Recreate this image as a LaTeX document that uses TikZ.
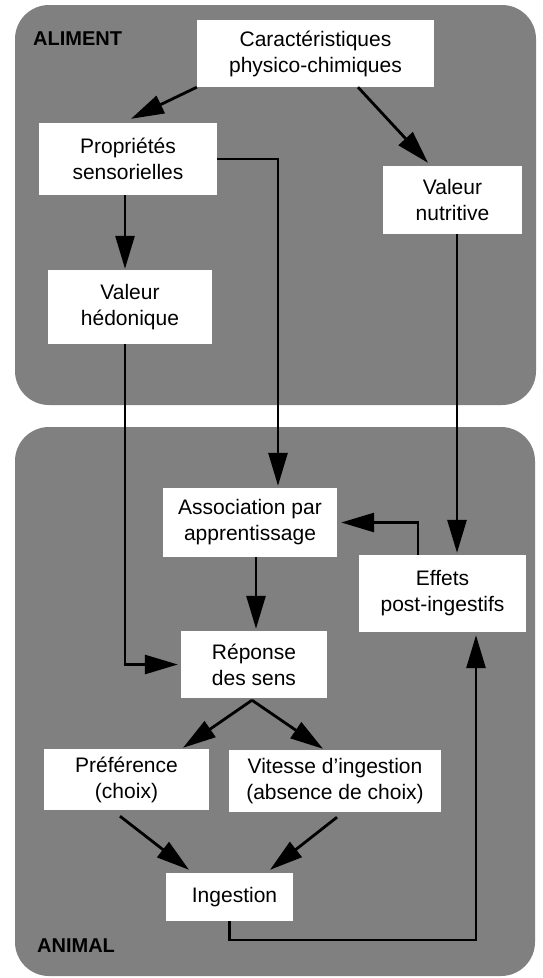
\documentclass[tikz,border=0pt]{standalone}
\usepackage{fontspec}
\setmainfont{Liberation Sans}
\usetikzlibrary{arrows.meta,calc}
\definecolor{panelgray}{RGB}{128,128,128}
\tikzset{
  panel/.style={fill=panelgray, draw=none, rounded corners=34pt},
  box/.style={fill=white, draw=none, inner sep=0pt, align=center,
    font=\fontsize{21}{26}\selectfont},
  lbl/.style={font=\fontsize{20}{24}\selectfont\bfseries, anchor=west, inner sep=0pt},
  conn/.style={draw=black, line width=2.8pt,
    -{Triangle[length=33pt,width=19pt]}},
}
\begin{document}
\begin{tikzpicture}[x=1pt,y=-1pt]
\useasboundingbox (0,0) rectangle (542,978);
% panels
\path[panel] (15,5) rectangle (536,405);
\path[panel] (15,427) rectangle (535,976);
\node[lbl] (aliment) at (33,38.5) {ALIMENT};
\node[lbl] (animal) at (37,946) {ANIMAL};
% boxes
\node[box, minimum width=237pt, minimum height=67pt] (car) at (315.5,53.5) {Caractéristiques\\physico-chimiques};
\node[box, minimum width=178pt, minimum height=72pt] (prop) at (128,159) {Propriétés\\sensorielles};
\node[box, minimum width=139pt, minimum height=68pt] (vn) at (452.5,200) {Valeur\\nutritive};
\node[box, minimum width=164pt, minimum height=74pt] (vh) at (130,307) {Valeur\\hédonique};
\node[box, minimum width=174pt, minimum height=69pt] (assoc) at (250,522.5) {Association par\\apprentissage};
\node[box, minimum width=167pt, minimum height=77pt] (eff) at (442.5,593.5) {Effets\\post-ingestifs};
\node[box, minimum width=146pt, minimum height=67pt] (rep) at (254,664.5) {Réponse\\des sens};
\node[box, minimum width=165pt, minimum height=61pt] (pref) at (126.5,779.5) {Préférence\\(choix)};
\node[box, minimum width=212pt, minimum height=62pt] (vit) at (335,781) {Vitesse d\char"0027 ingestion\\(absence de choix)};
\node[box, minimum width=127pt, minimum height=48pt] (ing) at (229.5,897) {\hspace*{10pt}Ingestion};
\coordinate (bot) at (0,940);
% connectors
\draw[conn] (car.south west) -- ([xshift=3pt,yshift=4pt]prop.north);
\draw[conn] ([xshift=42.5pt]car.south) -- ([xshift=-24.5pt,yshift=3pt]vn.north);
\draw[conn] ([xshift=-3pt]prop.south) -- ([xshift=-3pt,yshift=1pt]prop.south |- vh.north);
\draw[conn] (prop.east) -| ([xshift=28pt,yshift=2pt]assoc.north);
\draw[conn] ([xshift=-5pt]vh.south) |- ([xshift=-3pt]rep.west);
\draw[conn] ([xshift=4.5pt]vn.south) -- ([xshift=4.5pt,yshift=2pt]vn.south |- eff.north);
\draw[conn] ([xshift=-24.5pt]eff.north) |- ([xshift=4pt]assoc.east);
\draw[conn] ([xshift=6pt]assoc.south) -- ([xshift=6pt,yshift=2pt]assoc.south |- rep.north);
\draw[conn] ([xshift=-2pt,yshift=-2pt]rep.south) -- ([xshift=56.5pt,yshift=1pt]pref.north);
\draw[conn] ([xshift=-2pt,yshift=-2pt]rep.south) -- ([xshift=-12pt,yshift=1pt]vit.north);
\draw[conn] ([xshift=-6.5pt,yshift=-6pt]pref.south) -- ([xshift=-40.5pt,yshift=3pt]ing.north);
\draw[conn] ([xshift=2pt,yshift=-5pt]vit.south) -- ([xshift=40.5pt,yshift=3pt]ing.north);
\draw[conn] (ing.south) -- (ing.south |- bot) -| ([xshift=33.5pt,yshift=-3pt]eff.south);
\end{tikzpicture}
\end{document}
